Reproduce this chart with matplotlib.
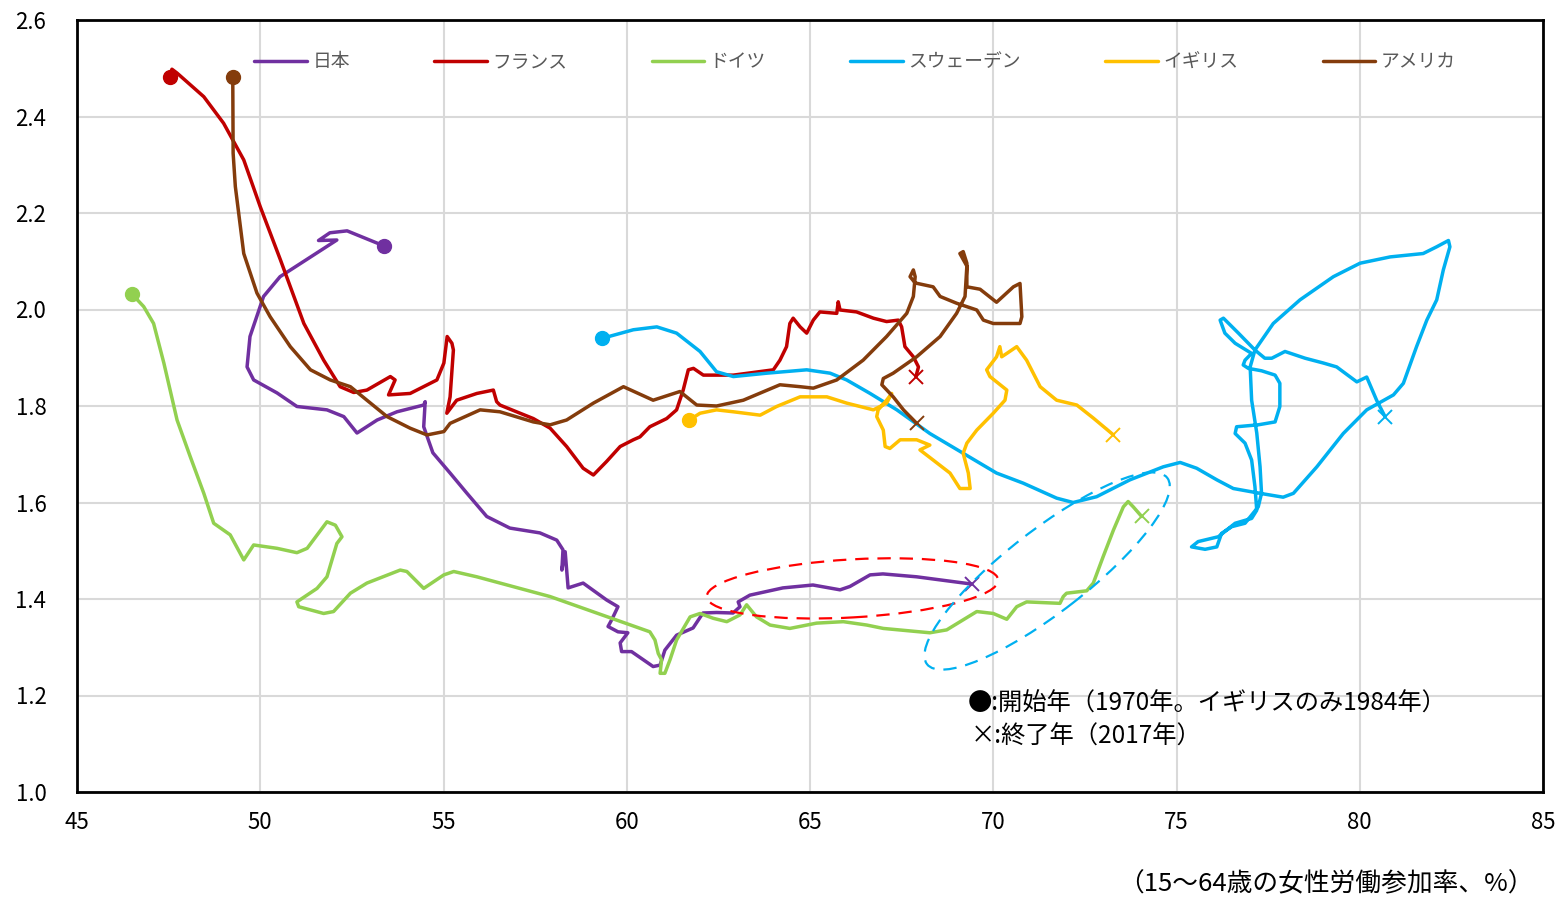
import matplotlib
matplotlib.use('Agg')
from matplotlib import pyplot as plt
from matplotlib.patches import Ellipse
from matplotlib.transforms import Affine2D

plt.rcParams['font.family'] = ['Noto Sans CJK JP', 'DejaVu Sans']

countries = ['日本', 'フランス', 'ドイツ', 'スウェーデン', 'イギリス', 'アメリカ']
colors = ['#7030A0', '#C00000', '#92D050', '#00B0F0', '#FFC000', '#843C0C']

# female labour participation (x) and total fertility rate (y), 1970 -> 2017
japan_x = [53.37, 52.37, 51.90, 51.59, 52.09, 50.54, 50.09, 49.72, 49.64, 49.82, 50.46, 51.00,
           51.82, 52.28, 52.64, 53.19, 53.73, 54.46, 54.50, 54.46, 54.71, 55.18, 55.63, 56.18,
           56.81, 57.63, 58.09, 58.26, 58.23, 58.32, 58.40, 58.81, 59.45, 59.76, 59.59, 59.49,
           59.76, 60.03, 59.82, 59.86, 60.13, 60.72, 60.91, 61.04, 61.36, 61.81, 62.08, 62.45,
           62.90, 63.09, 63.04, 63.36, 64.26, 65.08, 65.82, 66.09, 66.64, 66.99, 67.91, 69.41]
japan_y = [2.132, 2.163, 2.159, 2.143, 2.144, 2.068, 2.027, 1.944, 1.881, 1.854, 1.827, 1.799,
           1.792, 1.778, 1.744, 1.771, 1.788, 1.802, 1.809, 1.757, 1.703, 1.661, 1.620, 1.571,
           1.547, 1.537, 1.522, 1.502, 1.460, 1.498, 1.423, 1.433, 1.398, 1.384, 1.357, 1.343,
           1.332, 1.330, 1.309, 1.291, 1.291, 1.260, 1.263, 1.294, 1.325, 1.340, 1.371, 1.372,
           1.371, 1.384, 1.394, 1.408, 1.423, 1.429, 1.419, 1.426, 1.450, 1.452, 1.446, 1.431]

france_x = [47.53, 47.59, 47.73, 48.46, 49.00, 49.55, 50.00, 50.55, 51.19, 51.73, 52.18, 52.55,
            52.91, 53.55, 53.68, 53.50, 54.09, 54.82, 55.01, 55.10, 55.23, 55.27, 55.18, 55.09,
            55.36, 55.91, 56.36, 56.45, 56.54, 57.09, 57.45, 57.91, 58.36, 58.81, 59.09, 59.45,
            59.82, 60.18, 60.36, 60.63, 61.09, 61.36, 61.54, 61.68, 61.82, 62.09, 62.91, 64.00,
            64.18, 64.36, 64.45, 64.54, 64.73, 64.91, 65.09, 65.27, 65.73, 65.77, 65.82, 66.27,
            66.73, 67.09, 67.41, 67.50, 67.59, 67.82, 67.96, 67.89]
france_y = [2.482, 2.498, 2.490, 2.441, 2.386, 2.310, 2.213, 2.103, 1.971, 1.895, 1.840, 1.828,
            1.833, 1.861, 1.854, 1.823, 1.826, 1.854, 1.889, 1.944, 1.930, 1.916, 1.819, 1.785,
            1.812, 1.826, 1.833, 1.809, 1.802, 1.785, 1.774, 1.754, 1.716, 1.671, 1.657, 1.685,
            1.716, 1.730, 1.736, 1.757, 1.774, 1.792, 1.833, 1.875, 1.878, 1.864, 1.864, 1.875,
            1.895, 1.923, 1.971, 1.982, 1.964, 1.951, 1.978, 1.995, 1.992, 2.016, 1.999, 1.995,
            1.982, 1.975, 1.978, 1.964, 1.923, 1.902, 1.881, 1.861]

germany_x = [46.50, 46.82, 47.09, 47.37, 47.73, 48.09, 48.46, 48.73, 49.18, 49.55, 49.82, 50.46,
             51.00, 51.28, 51.82, 52.05, 52.23, 52.09, 51.82, 51.55, 51.00, 51.05, 51.73, 52.00,
             52.46, 52.91, 53.82, 54.00, 54.46, 55.01, 55.28, 55.91, 57.91, 60.63, 60.77, 60.86,
             60.95, 60.91, 61.04, 61.18, 61.36, 61.73, 62.00, 62.36, 62.73, 63.09, 63.27, 63.54,
             63.91, 64.45, 65.18, 65.91, 66.55, 67.00, 68.27, 68.73, 69.55, 70.00, 70.37, 70.64,
             70.91, 71.82, 71.91, 72.00, 72.55, 72.73, 73.00, 73.28, 73.55, 73.68, 73.82, 74.05]
germany_y = [2.032, 2.006, 1.971, 1.889, 1.771, 1.695, 1.619, 1.557, 1.533, 1.481, 1.512, 1.505,
             1.496, 1.505, 1.560, 1.553, 1.529, 1.515, 1.446, 1.422, 1.394, 1.384, 1.370, 1.374,
             1.412, 1.433, 1.460, 1.457, 1.422, 1.450, 1.457, 1.446, 1.405, 1.332, 1.315, 1.287,
             1.274, 1.246, 1.246, 1.274, 1.315, 1.363, 1.370, 1.360, 1.353, 1.367, 1.388, 1.363,
             1.346, 1.339, 1.350, 1.353, 1.346, 1.339, 1.330, 1.336, 1.374, 1.370, 1.358, 1.384,
             1.394, 1.391, 1.405, 1.412, 1.417, 1.433, 1.488, 1.543, 1.591, 1.602, 1.591, 1.571]

sweden_x = [59.32, 60.18, 60.82, 61.36, 62.00, 62.45, 62.91, 63.82, 64.91, 65.55, 66.00, 66.64,
            67.37, 68.27, 69.18, 70.09, 70.82, 71.73, 72.18, 72.82, 73.73, 74.64, 75.10, 75.55,
            76.10, 76.55, 77.28, 77.91, 78.19, 78.83, 79.55, 80.19, 80.92, 81.19, 81.55, 81.83,
            82.10, 82.28, 82.46, 82.42, 82.10, 81.73, 80.83, 80.01, 79.28, 78.37, 77.64, 77.14,
            77.01, 77.05, 77.19, 77.28, 77.32, 77.23, 76.87, 76.51, 76.23, 76.10, 75.78, 75.41,
            75.59, 76.14, 76.60, 77.05, 77.19, 77.14, 77.05, 76.87, 76.60, 76.64, 77.23, 77.69,
            77.82, 77.82, 77.69, 77.32, 76.96, 76.82, 76.87, 77.05, 76.60, 76.32, 76.19, 76.28,
            76.69, 77.14, 77.41, 77.60, 77.96, 78.51, 79.01, 79.37, 79.92, 80.19, 80.46, 80.69]
sweden_y = [1.940, 1.958, 1.964, 1.951, 1.913, 1.871, 1.861, 1.868, 1.875, 1.868, 1.854, 1.826,
            1.792, 1.743, 1.702, 1.661, 1.640, 1.609, 1.600, 1.612, 1.647, 1.674, 1.683, 1.671,
            1.647, 1.629, 1.619, 1.611, 1.619, 1.674, 1.743, 1.792, 1.823, 1.847, 1.923, 1.978,
            2.020, 2.082, 2.130, 2.143, 2.130, 2.116, 2.109, 2.096, 2.068, 2.020, 1.971, 1.916,
            1.881, 1.812, 1.744, 1.674, 1.619, 1.591, 1.557, 1.550, 1.536, 1.508, 1.503, 1.508,
            1.519, 1.529, 1.557, 1.567, 1.584, 1.633, 1.688, 1.723, 1.743, 1.757, 1.761, 1.767,
            1.799, 1.847, 1.864, 1.873, 1.878, 1.885, 1.895, 1.909, 1.930, 1.951, 1.978, 1.982,
            1.951, 1.916, 1.899, 1.899, 1.913, 1.899, 1.889, 1.881, 1.850, 1.860, 1.812, 1.778]

uk_x = [61.71, 62.00, 62.45, 62.91, 63.64, 64.09, 64.73, 65.46, 66.00, 66.73, 67.09, 67.23,
        67.09, 66.86, 66.82, 67.00, 67.05, 67.18, 67.46, 67.91, 68.27, 68.00, 68.36, 68.82,
        69.09, 69.37, 69.32, 69.18, 69.28, 69.55, 70.00, 70.32, 70.37, 69.91, 69.82, 70.09,
        70.18, 70.23, 70.37, 70.64, 70.91, 71.28, 71.73, 72.28, 72.73, 73.28]
uk_y = [1.771, 1.785, 1.792, 1.788, 1.781, 1.799, 1.819, 1.819, 1.806, 1.792, 1.806, 1.826,
        1.812, 1.792, 1.778, 1.750, 1.716, 1.712, 1.730, 1.730, 1.719, 1.709, 1.688, 1.661,
        1.629, 1.629, 1.661, 1.702, 1.723, 1.750, 1.785, 1.812, 1.833, 1.861, 1.875, 1.902,
        1.923, 1.902, 1.909, 1.923, 1.895, 1.840, 1.812, 1.802, 1.775, 1.740]

usa_x = [49.25, 49.26, 49.32, 49.55, 49.91, 50.27, 50.82, 51.37, 51.91, 52.46, 52.91, 53.46,
         54.09, 54.55, 55.01, 55.18, 56.00, 56.54, 57.45, 57.91, 58.36, 59.09, 59.91, 60.72,
         61.45, 61.91, 62.45, 63.18, 64.18, 64.73, 65.09, 65.73, 66.45, 67.09, 67.64, 67.82,
         67.87, 67.82, 67.73, 67.87, 68.36, 68.55, 69.00, 69.55, 69.73, 70.00, 70.73, 70.78,
         70.73, 70.55, 70.09, 69.64, 69.28, 69.28, 69.18, 69.09, 69.28, 69.23, 69.00, 68.55,
         67.91, 67.27, 67.00, 66.96, 67.27, 67.55, 67.91]
usa_y = [2.482, 2.324, 2.255, 2.116, 2.034, 1.985, 1.923, 1.875, 1.854, 1.840, 1.812, 1.778,
         1.754, 1.740, 1.747, 1.764, 1.792, 1.788, 1.767, 1.761, 1.771, 1.806, 1.840, 1.812,
         1.830, 1.802, 1.800, 1.812, 1.844, 1.840, 1.837, 1.854, 1.895, 1.944, 1.992, 2.027,
         2.068, 2.082, 2.068, 2.055, 2.047, 2.027, 2.013, 1.999, 1.978, 1.971, 1.971, 1.985,
         2.054, 2.047, 2.015, 2.042, 2.047, 2.096, 2.120, 2.116, 2.090, 2.027, 1.992, 1.944,
         1.902, 1.868, 1.857, 1.844, 1.819, 1.792, 1.764]

series_x = [japan_x, france_x, germany_x, sweden_x, uk_x, usa_x]
series_y = [japan_y, france_y, germany_y, sweden_y, uk_y, usa_y]

x_ticks = [45, 50, 55, 60, 65, 70, 75, 80, 85]
y_ticks = [1.0, 1.2, 1.4, 1.6, 1.8, 2.0, 2.2, 2.4, 2.6]

fig = plt.figure(figsize=(15.6, 8.99), dpi=100)
ax = fig.add_axes([77 / 1560, 1 - 792 / 899, 1466 / 1560, 772 / 899])

for name, col, xs, ys in zip(countries, colors, series_x, series_y):
    ax.plot(xs, ys, color=col, lw=2.5, label=name, solid_joinstyle='round',
            solid_capstyle='round', zorder=3)
    ax.plot(xs[0], ys[0], 'o', color=col, ms=10, zorder=4)
    ax.plot(xs[-1], ys[-1], 'x', color=col, ms=10, mew=1.4, zorder=4)

ax.set_xlim(45, 85)
ax.set_ylim(1.0, 2.6)
ax.set_xticks(x_ticks)
ax.set_yticks(y_ticks)
ax.set_yticklabels([f'{v:.1f}' for v in y_ticks])
ax.tick_params(axis='both', length=0, labelsize=16, colors='black')
ax.tick_params(axis='x', pad=14)
ax.tick_params(axis='y', pad=22)
ax.grid(True, color='#D9D9D9', lw=1.5)
ax.set_axisbelow(True)
for sp in ax.spines.values():
    sp.set_linewidth(2)
    sp.set_color('black')

# dashed ellipses drawn in screen pixels, placed in data coordinates
bb = ax.get_window_extent()
sx = bb.width / (85 - 45)
sy = bb.height / (2.6 - 1.0)
for cx, cy, w, h, ang, col in [(66.16, 1.422, 292, 58, 3.3, '#FF0000'),
                                (71.47, 1.458, 304, 82, 37.8, '#00B0F0')]:
    tr = Affine2D().scale(1 / sx, 1 / sy).translate(cx, cy) + ax.transData
    ax.add_patch(Ellipse((0, 0), w, h, angle=ang, transform=tr, fill=False,
                         ec=col, lw=1.6, ls=(0, (6, 4)), zorder=5))

ax.legend(ncol=6, loc='center', bbox_to_anchor=(855 / 1560, 1 - 62 / 899),
          bbox_transform=fig.transFigure, frameon=False, fontsize=13.5,
          handlelength=2.8, handletextpad=0.3, columnspacing=4.5,
          labelcolor='#595959')

ax.text(69.3, 1.184, '●:開始年（1970年。イギリスのみ1984年）', fontsize=17.5, va='center')
ax.text(69.38, 1.114, '×:終了年（2017年）', fontsize=17.5, va='center')
fig.text(1534 / 1560, 1 - 884 / 899, '（15～64歳の女性労働参加率、%）', fontsize=18.5,
         ha='right', va='center')

fig.savefig('out.png', dpi=100)
